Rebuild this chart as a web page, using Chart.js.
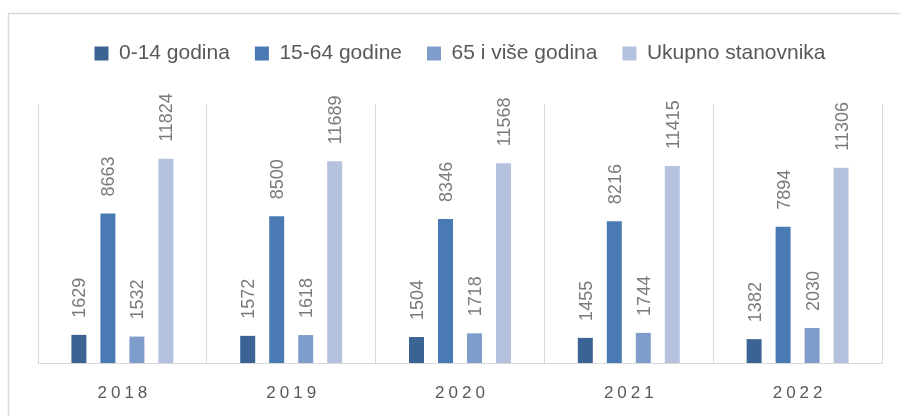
<!DOCTYPE html>
<html>
<head>
<meta charset="utf-8">
<script src="https://cdn.jsdelivr.net/npm/chart.js@4.4.1/dist/chart.umd.min.js"></script>
<style>
  html, body { margin: 0; padding: 0; background: #ffffff; }
  #wrap { width: 900px; height: 416px; position: relative; }
</style>
</head>
<body>
<div id="wrap"><canvas id="c" width="900" height="416"></canvas></div>
<script>
const years = ['2018', '2019', '2020', '2021', '2022'];
const age0to14 = [1629, 1572, 1504, 1455, 1382];
const age15to64 = [8663, 8500, 8346, 8216, 7894];
const age65plus = [1532, 1618, 1718, 1744, 2030];
const totalPop = [11824, 11689, 11568, 11415, 11306];
const seriesNames = ['0-14 godina', '15-64 godine', '65 i više godina', 'Ukupno stanovnika'];
const seriesColors = ['#3b6394', '#4a7ab4', '#7e9dca', '#b4c2de'];
const yMax = 15000;

const outerFrame = {
  id: 'outerFrame',
  beforeDraw(chart) {
    const ctx = chart.ctx;
    ctx.save();
    ctx.strokeStyle = '#d9d9d9';
    ctx.lineWidth = 1.5;
    ctx.strokeRect(8.5, 13.5, 1000, 1000);
    ctx.restore();
  }
};

const legendSpacing = {
  id: 'legendSpacing',
  beforeLayout(chart) {
    const lg = chart.legend;
    if (lg && !lg._patched) {
      const orig = lg.fit;
      lg.fit = function () {
        orig.call(this);
        this.height += 30;
      };
      lg._patched = true;
    }
  }
};

const valueLabels = {
  id: 'valueLabels',
  afterDatasetsDraw(chart) {
    const ctx = chart.ctx;
    ctx.save();
    ctx.font = '18px "Liberation Sans"';
    ctx.fillStyle = '#7a7a7a';
    ctx.textAlign = 'left';
    ctx.textBaseline = 'alphabetic';
    chart.data.datasets.forEach((ds, di) => {
      const meta = chart.getDatasetMeta(di);
      meta.data.forEach((bar, i) => {
        ctx.save();
        ctx.translate(bar.x + 6.5, bar.y - 17);
        ctx.rotate(-Math.PI / 2);
        ctx.fillText(String(ds.data[i]), 0, 0);
        ctx.restore();
      });
    });
    ctx.restore();
  }
};

const yearLabels = {
  id: 'yearLabels',
  afterDraw(chart) {
    const ctx = chart.ctx;
    const xs = chart.scales.x;
    const ls = 4;
    ctx.save();
    ctx.font = '17px "Liberation Sans"';
    ctx.fillStyle = '#595959';
    ctx.textAlign = 'left';
    ctx.textBaseline = 'alphabetic';
    ctx.letterSpacing = ls + 'px';
    chart.data.labels.forEach((lab, i) => {
      const w = ctx.measureText(lab).width - ls;
      const x = xs.getPixelForTick(i);
      ctx.fillText(lab, x - w / 2, chart.chartArea.bottom + 35);
    });
    ctx.restore();
  }
};

const datasets = [age0to14, age15to64, age65plus, totalPop].map((d, i) => ({
  label: seriesNames[i],
  data: d,
  backgroundColor: seriesColors[i],
  borderWidth: 0,
  categoryPercentage: 0.687,
  barPercentage: 0.517
}));

new Chart(document.getElementById('c'), {
  type: 'bar',
  data: { labels: years, datasets },
  options: {
    responsive: false,
    animation: false,
    devicePixelRatio: 1,
    layout: { padding: { left: 38, right: 18, top: 18, bottom: 53 } },
    plugins: {
      legend: {
        position: 'top',
        labels: {
          boxWidth: 14,
          boxHeight: 14,
          padding: 25,
          color: '#595959',
          font: { family: '"Liberation Sans"', size: 21 }
        }
      },
      tooltip: { enabled: false }
    },
    scales: {
      x: {
        offset: true,
        ticks: { display: false },
        grid: { display: true, offset: true, color: '#d9d9d9', lineWidth: 1, drawTicks: false },
        border: { display: true, color: '#d9d9d9', width: 1 }
      },
      y: {
        display: false,
        min: 0,
        max: yMax
      }
    }
  },
  plugins: [outerFrame, legendSpacing, valueLabels, yearLabels]
});
</script>
</body>
</html>
